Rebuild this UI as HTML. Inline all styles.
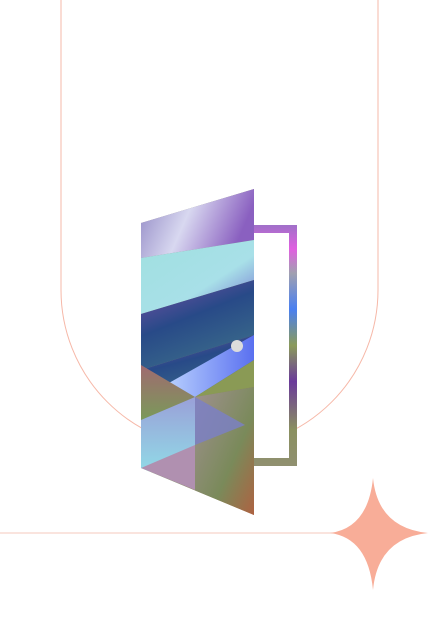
<!DOCTYPE html>
<html><head><meta charset="utf-8"><style>
html,body{margin:0;padding:0;background:#fff;width:439px;height:632px;overflow:hidden}
svg{display:block}
</style></head><body>
<svg width="439" height="632" viewBox="0 0 439 632">
<defs>
<linearGradient id="gf" x1="0" y1="0" x2="0" y2="1">
<stop offset="0" stop-color="#a070c8"/><stop offset="0.1" stop-color="#e060e0"/><stop offset="0.2" stop-color="#a0a0b0"/><stop offset="0.35" stop-color="#4a80f0"/><stop offset="0.5" stop-color="#8a9a5a"/><stop offset="0.65" stop-color="#6a3a9a"/><stop offset="0.85" stop-color="#8a9060"/><stop offset="1" stop-color="#909070"/>
</linearGradient>
<linearGradient id="g1" x1="0" y1="0" x2="1" y2="0.3"><stop offset="0" stop-color="#8a80c0"/><stop offset="0.5" stop-color="#d8d8f0"/><stop offset="1" stop-color="#8a60c0"/></linearGradient>
<linearGradient id="g2" x1="0" y1="0" x2="1" y2="1"><stop offset="0" stop-color="#a0e0e0"/><stop offset="0.6" stop-color="#a8e0e8"/><stop offset="1" stop-color="#7070d0"/></linearGradient>
<linearGradient id="g3" x1="0" y1="0" x2="0.5" y2="1"><stop offset="0" stop-color="#7a50a8"/><stop offset="0.5" stop-color="#284a88"/><stop offset="1" stop-color="#3a6a8a"/></linearGradient>
<linearGradient id="g4" x1="0" y1="0" x2="1" y2="0"><stop offset="0" stop-color="#c0d8ff"/><stop offset="1" stop-color="#5a70f0"/></linearGradient>
<linearGradient id="g5" x1="0" y1="0" x2="0" y2="1"><stop offset="0" stop-color="#a06a70"/><stop offset="1" stop-color="#7a9a5a"/></linearGradient>
<linearGradient id="g6" x1="0" y1="0" x2="0" y2="1"><stop offset="0" stop-color="#9aa0d8"/><stop offset="1" stop-color="#90e0e8"/></linearGradient>
<linearGradient id="g7" x1="0" y1="0" x2="1" y2="1"><stop offset="0" stop-color="#a09090"/><stop offset="0.6" stop-color="#7a8a5a"/><stop offset="1" stop-color="#b06040"/></linearGradient>
<clipPath id="dc"><polygon points="141,223 254,189 254,515 141,468"/></clipPath>
</defs>
<path d="M61,0 V290 A158.5,158.5 0 0 0 378,290 V0" fill="none" stroke="#f6b8a8" stroke-width="1"/>
<line x1="0" y1="533" x2="345" y2="533" stroke="#f6c8bc" stroke-width="1"/>
<path d="M373,478 Q378,528 428,533 Q378,538 373,590 Q368,538 330,533 Q368,528 373,478 Z" fill="#f8ad98"/>
<g>
<rect x="254" y="225" width="43" height="241" fill="url(#gf)"/>
<rect x="254" y="233" width="35" height="225" fill="#fff"/>
</g>
<g clip-path="url(#dc)">
<rect x="141" y="185" width="113" height="335" fill="url(#g7)"/>
<polygon points="141,180 254,180 254,240 141,258" fill="url(#g1)"/>
<polygon points="141,258 254,240 254,280 141,314" fill="url(#g2)"/>
<polygon points="141,314 254,280 254,335 141,370" fill="url(#g3)"/>
<polygon points="141,370 254,335 254,370 195,395 160,388" fill="url(#g3)"/>
<polygon points="160,388 254,335 254,360 195,397" fill="url(#g4)"/>
<polygon points="141,365 195,397 141,420" fill="url(#g5)"/>
<polygon points="195,397 254,360 254,387" fill="#8a9a55"/>
<polygon points="195,397 254,387 254,520 195,520" fill="url(#g7)"/>
<polygon points="195,397 245,425 195,445" fill="#7a80c8" opacity="0.8"/>
<polygon points="141,420 195,397 195,480 141,470" fill="url(#g6)"/>
<polygon points="141,468 195,445 195,490" fill="#b090b0"/>
</g>
<circle cx="237" cy="346" r="6" fill="#dcdcdc"/>
</svg>
</body></html>
